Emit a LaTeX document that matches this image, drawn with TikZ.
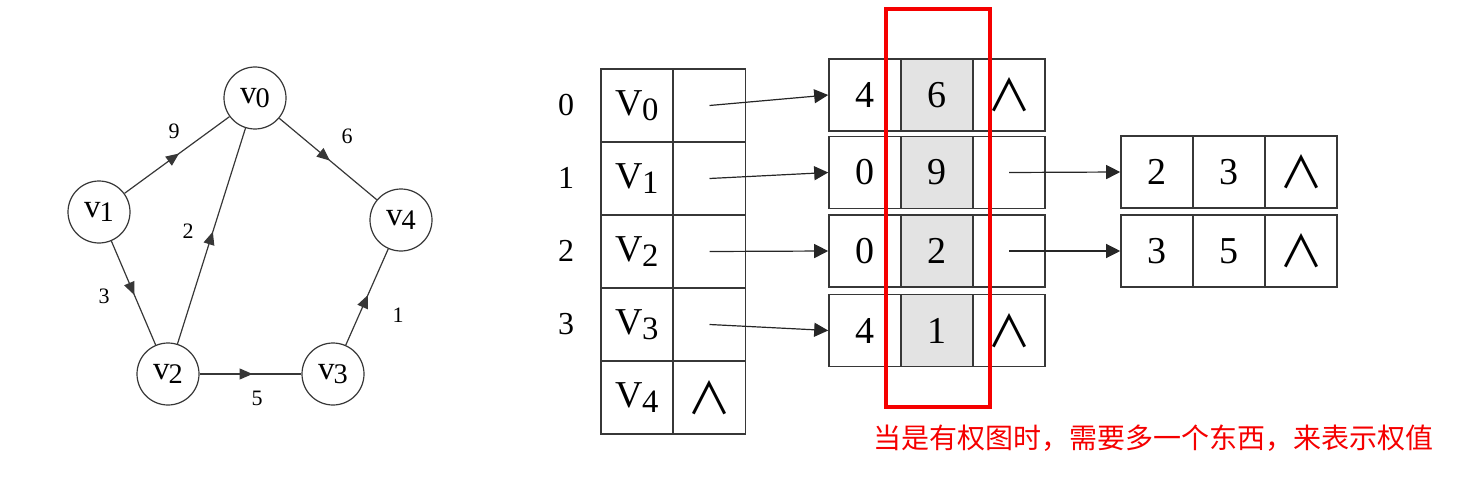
\documentclass[tikz,border=0pt]{standalone}
\usepackage{fontspec}
\usepackage{graphicx}
\setmainfont{Liberation Serif}
\newfontfamily\cjk{Noto Sans CJK SC}
\usetikzlibrary{arrows.meta,decorations.markings}
\definecolor{edgegray}{RGB}{55,55,55}
\definecolor{wgray}{RGB}{227,227,227}
\definecolor{remark}{RGB}{245,0,0}
\newcommand{\vsub}[2]{#1\kern-0.5pt\raisebox{-0.3ex}{\scalebox{0.86}{#2}}}
\newcommand{\nil}{{\cjk\fontsize{22}{22}\selectfont ∧}}

\begin{document}
\begin{tikzpicture}[x=0.5pt,y=-0.5pt,
	vert/.style={circle,draw=edgegray,line width=0.6pt,minimum size=31pt,inner sep=0pt,font=\fontsize{16.5}{16.5}\selectfont},
	wlabel/.style={inner sep=0pt,font=\fontsize{11}{11}\selectfont},
	arc/.style={draw=edgegray,line width=0.6pt,postaction={decorate},
		decoration={markings,mark=at position 0.52 with {\arrow{Triangle[length=6.5pt,width=5.5pt]}}}},
	cell/.style={draw=edgegray,line width=0.8pt,minimum width=36pt,minimum height=36pt,inner sep=0pt,font=\fontsize{19}{19}\selectfont},
	wcell/.style={cell,fill=wgray},
	idx/.style={inner sep=0pt,font=\fontsize{16}{16}\selectfont},
	link/.style={draw=black!85,line width=0.6pt,-{Triangle[length=7pt,width=7pt]}}]
	\useasboundingbox (0,0) rectangle (1472,481);
	\node[vert] (v0) at (255,98) {\vsub{v}{0}};
	\node[vert] (v1) at (99,212) {\vsub{v}{1}};
	\node[vert] (v2) at (168,374) {\vsub{v}{2}};
	\node[vert] (v3) at (333,374) {\vsub{v}{3}};
	\node[vert] (v4) at (401,220) {\vsub{v}{4}};
	\draw[arc] (v1) -- (v0);
	\draw[arc] (v0) -- (v4);
	\draw[arc] (v2) -- (v0);
	\draw[arc] (v1) -- (v2);
	\draw[arc] (v2) -- (v3);
	\draw[arc] (v3) -- (v4);
	\node[wlabel] (w10) at (174,131) {9};
	\node[wlabel] (w04) at (347,136) {6};
	\node[wlabel] (w20) at (188,231) {2};
	\node[wlabel] (w12) at (104,296) {3};
	\node[wlabel] (w34) at (398,315) {1};
	\node[wlabel] (w23) at (257,398) {5};
	\foreach \i in {0,...,4} \node[cell,minimum height=36.5pt] (a\i) at (637,105.5+73*\i) {\vsub{V}{\i}};
	\foreach \i in {0,...,3} \node[cell,minimum height=36.5pt] (p\i) at (709.5,105.5+73*\i) {};
	\node[cell,minimum height=36.5pt] (p4) at (709.5,397.5) {\nil};
	\foreach \i in {0,...,3} \node[idx] (n\i) at (566,105+73*\i) {\i};
	\foreach \r/\y/\a/\b/\c in {0/95/4/6/\nil,1/172.5/0/9/{},2/251/0/2/{},3/330.5/4/1/\nil} {
		\node[cell] (e\r a) at (865,\y) {\a};
		\node[wcell] (e\r b) at (937,\y) {\b};
		\node[cell] (e\r c) at (1009,\y) {\c};
	}
	\foreach \r/\y/\a/\b in {1/172/2/3,2/251/3/5} {
		\node[cell] (f\r a) at (1157,\y) {\a};
		\node[cell] (f\r b) at (1229,\y) {\b};
		\node[cell] (f\r c) at (1301,\y) {\nil};
	}
	\foreach \i in {0,...,3} \draw[link] (p\i.center) -- (e\i a.west);
	\foreach \i in {1,2} \draw[link] (e\i c.center) -- (f\i a.west);
	\draw[remark,line width=2pt] (886,9) rectangle (990,407);
	\node[anchor=west,inner sep=0pt,text=remark,font=\cjk\fontsize{14}{14}\selectfont] (note) at (873,438) {当是有权图时，需要多一个东西，来表示权值};
\end{tikzpicture}
\end{document}
